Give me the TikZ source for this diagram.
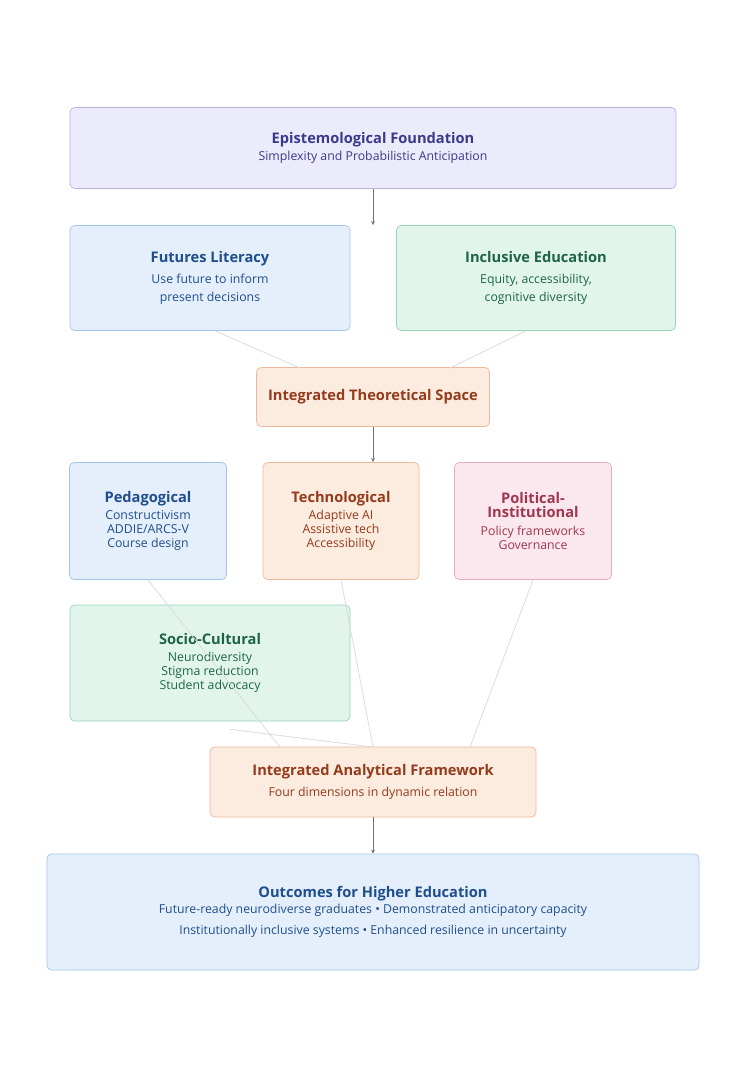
\documentclass[tikz,border=0pt]{standalone}
\usepackage{fontspec}
\setmainfont{Open Sans}
\usetikzlibrary{arrows,positioning}
\tikzset{>=stealth}
\definecolor{lavfill}{HTML}{ECEBFB}\definecolor{lavline}{HTML}{B8B5E3}\definecolor{lavtext}{HTML}{3B3A8A}
\definecolor{bluefill}{HTML}{E4EFFB}\definecolor{blueline}{HTML}{A3C5E8}\definecolor{bluetext}{HTML}{1F4E8C}
\definecolor{greenfill}{HTML}{E2F5EC}\definecolor{greenline}{HTML}{98D3B6}\definecolor{greentext}{HTML}{1E6446}
\definecolor{orafill}{HTML}{FCEBDF}\definecolor{oraline}{HTML}{EDB99D}\definecolor{oratext}{HTML}{943B1C}
\definecolor{pinkfill}{HTML}{FBE8EE}\definecolor{pinkline}{HTML}{E8ADBD}\definecolor{pinktext}{HTML}{A03650}
\newcommand{\hd}{\fontsize{12.5}{15}\selectfont\bfseries}
\newcommand{\bd}{\fontsize{10.5}{14}\selectfont}
\begin{document}
\begin{tikzpicture}[x=0.03cm,y=-0.03cm,
  box/.style={draw,rounded corners=4pt,line width=0.6pt,align=center,inner sep=0pt},
  lav/.style={box,fill=lavfill,draw=lavline,text=lavtext},
  blu/.style={box,fill=bluefill,draw=blueline,text=bluetext},
  grn/.style={box,fill=greenfill,draw=greenline,text=greentext},
  ora/.style={box,fill=orafill,draw=oraline,text=oratext},
  pnk/.style={box,fill=pinkfill,draw=pinkline,text=pinktext},
  arr/.style={->,draw=black!55,line width=0.6pt},
  faint/.style={draw=black!15,line width=0.6pt}]
\useasboundingbox[fill=white] (0,0) rectangle (749,1075);
% top
\node[lav,minimum width=18.18cm,minimum height=2.43cm] (epist) at (373,148)
  {{\hd Epistemological Foundation}\\[2pt]\bd Simplexity and Probabilistic Anticipation};
\node[blu,minimum width=8.4cm,minimum height=3.15cm] (futures) at (210,278)
  {{\hd Futures Literacy}\\[6pt]\bd Use future to inform\\[3pt] \bd present decisions};
\node[grn,minimum width=8.37cm,minimum height=3.15cm] (incl) at (536,278)
  {{\hd Inclusive Education}\\[6pt]\bd Equity, accessibility,\\[3pt] \bd cognitive diversity};
\node[ora,minimum width=6.99cm,minimum height=1.77cm] (space) at (373,397)
  {\hd Integrated Theoretical Space};
% four dimensions
\node[blu,minimum width=4.71cm,minimum height=3.51cm] (peda) at (148,521)
  {{\hd Pedagogical}\\[2pt]\bd Constructivism\\ \bd ADDIE/ARCS-V\\ \bd Course design};
\node[ora,minimum width=4.68cm,minimum height=3.51cm] (tech) at (341,521)
  {{\hd Technological}\\[2pt]\bd Adaptive AI\\ \bd Assistive tech\\ \bd Accessibility};
\node[pnk,minimum width=4.71cm,minimum height=3.51cm] (poli) at (533,521)
  {{\hd Political-}\\ {\hd Institutional}\\[3pt]\bd Policy frameworks\\ \bd Governance};
\node[grn,minimum width=8.4cm,minimum height=3.48cm] (socio) at (210,663)
  {{\hd Socio-Cultural}\\[2pt]\bd Neurodiversity\\ \bd Stigma reduction\\ \bd Student advocacy};
% bottom
\node[ora,minimum width=9.78cm,minimum height=2.1cm] (frame) at (373,782)
  {{\hd Integrated Analytical Framework}\\[6pt]\bd Four dimensions in dynamic relation};
\node[blu,minimum width=19.56cm,minimum height=3.48cm] (out) at (373,912)
  {{\hd Outcomes for Higher Education}\\[1pt]\bd Future-ready neurodiverse graduates \textbullet{} Demonstrated anticipatory capacity\\[6pt]
   \bd Institutionally inclusive systems \textbullet{} Enhanced resilience in uncertainty};
% connectors
\coordinate (fl) at (300,368); \coordinate (ie) at (450,368);
\coordinate (a1) at (280,747); \coordinate (a2) at (373,747); \coordinate (a3) at (470,747);
\draw[arr] (epist) -- (epist |- futures.north);
\draw[faint] (futures.south) ++(5,0) -- (fl);
\draw[faint] (incl.south) ++(-10,0) -- (ie);
\draw[arr] (space) -- (space |- tech.north);
\draw[faint] (peda.south) -- (a1);
\draw[faint] (tech.south) -- (a2);
\draw[faint] (poli.south) -- (a3);
\draw[faint] (socio.south) ++(20,8) -- (a2);
\draw[arr] (frame) -- (frame |- out.north);
\end{tikzpicture}
\end{document}
